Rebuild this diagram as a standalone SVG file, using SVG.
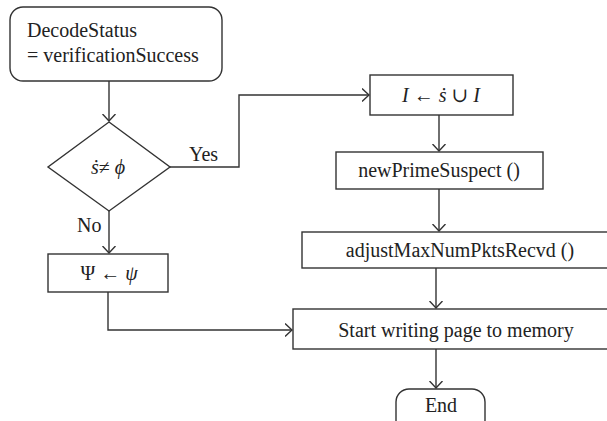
<svg xmlns="http://www.w3.org/2000/svg" width="607" height="421" viewBox="0 0 607 421">
<defs>
<style>
.box{fill:#fff;stroke:#333;stroke-width:1.4}
.ln{fill:none;stroke:#333;stroke-width:1.4}
.t{font-family:"Liberation Serif","DejaVu Serif",serif;font-size:20px;fill:#222}
.m{font-family:"Liberation Serif","DejaVu Serif",serif;font-size:20px;fill:#222}
.i{font-style:italic}
</style>
<marker id="ah" viewBox="0 0 8 14" refX="7.5" refY="7" markerWidth="8" markerHeight="14" markerUnits="userSpaceOnUse" orient="auto">
<path d="M0.5,0.5 L7.5,7 L0.5,13.5" fill="none" stroke="#333" stroke-width="1.4"/>
</marker>
</defs>
<rect width="607" height="421" fill="#fff"/>
<g id="connectors">
<path class="ln" d="M109,81 V121" marker-end="url(#ah)"/>
<path class="ln" d="M170,167 H239 V95 H369" marker-end="url(#ah)"/>
<path class="ln" d="M109,211 V253" marker-end="url(#ah)"/>
<path class="ln" d="M108,292 V330 H292" marker-end="url(#ah)"/>
<path class="ln" d="M439,115 V151" marker-end="url(#ah)"/>
<path class="ln" d="M439,189 V231" marker-end="url(#ah)"/>
<path class="ln" d="M436,268 V308" marker-end="url(#ah)"/>
<path class="ln" d="M436,349 V388" marker-end="url(#ah)"/>
<text class="t" x="189" y="161">Yes</text>
<text class="t" x="77" y="232">No</text>
</g>
<g id="start">
<rect class="box" x="10" y="7" width="212" height="74" rx="13"/>
<text class="t" x="27" y="37">DecodeStatus</text>
<text class="t" x="27" y="62">= verificationSuccess</text>
</g>
<g id="decision">
<path class="box" d="M109,122 L170,167 L109,211 L48,167 Z"/>
<text class="m" x="108" y="174" text-anchor="middle"><tspan class="i">ṡ</tspan>≠ <tspan class="i">ϕ</tspan></text>
</g>
<g id="psi">
<rect class="box" x="48" y="254" width="120" height="38"/>
<text class="m" x="109" y="280" text-anchor="middle">Ψ ← <tspan class="i">ψ</tspan></text>
</g>
<g id="union">
<rect class="box" x="370" y="75" width="143" height="40"/>
<text class="m" x="441" y="102" text-anchor="middle"><tspan class="i">I</tspan> ← <tspan class="i">ṡ</tspan> ∪ <tspan class="i">I</tspan></text>
</g>
<g id="newPrime">
<rect class="box" x="336" y="152" width="207" height="37"/>
<text class="t" x="439" y="177" text-anchor="middle">newPrimeSuspect ()</text>
</g>
<g id="adjust">
<rect class="box" x="302" y="232" width="316" height="36"/>
<text class="t" x="460" y="257" text-anchor="middle">adjustMaxNumPktsRecvd ()</text>
</g>
<g id="write">
<rect class="box" x="293" y="309" width="326" height="40"/>
<text class="t" x="456" y="337" text-anchor="middle">Start writing page to memory</text>
</g>
<g id="end">
<rect class="box" x="396" y="389" width="89" height="44" rx="13"/>
<text class="t" x="441" y="412" text-anchor="middle">End</text>
</g>
</svg>
